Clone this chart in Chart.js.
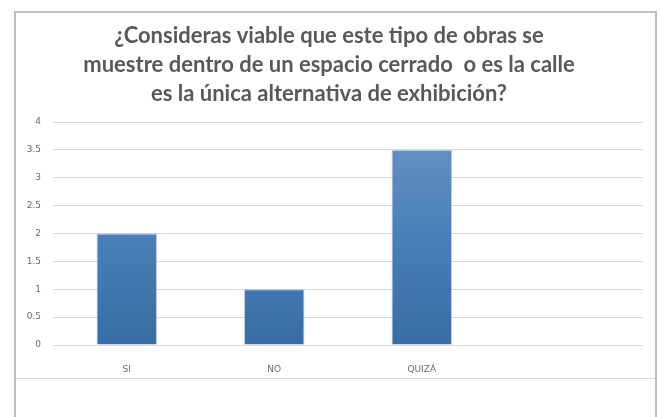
<!DOCTYPE html>
<html>
<head>
<meta charset="utf-8">
<script src="https://cdn.jsdelivr.net/npm/chart.js@4"></script>
<style>
  html, body { margin: 0; padding: 0; background: #fff; }
  #wrap { position: relative; width: 661px; height: 417px; }
  #frame { position: absolute; left: 14px; top: 11px; width: 643px; height: 420px;
           border: 2px solid #bfbfbf; box-sizing: border-box; }
  #sep { position: absolute; left: 16px; top: 378px; width: 639px; height: 1px; background: #d9d9d9; }
  canvas { position: absolute; left: 0; top: 0; }
</style>
</head>
<body>
<div id="wrap">
  <div id="frame"></div>
  <div id="sep"></div>
  <canvas id="chart" width="661" height="417"></canvas>
</div>
<script>
// --- DATA ---
const titleLines = [
  '¿Consideras viable que este tipo de obras se',
  'muestre dentro de un espacio cerrado  o es la calle',
  'es la única alternativa de exhibición?'
];
const categories = ['SI', 'NO', 'QUIZÁ', ''];
const values = [2, 1, 3.5, null];

const textGray = '#595959';

// gradient for bars
function barGradient(context) {
  const { chart } = context;
  const area = chart.chartArea;
  if (!area) return '#4a7fb8';
  const g = chart.ctx.createLinearGradient(0, area.top, 0, area.bottom);
  g.addColorStop(0, '#6a95c2');
  g.addColorStop(0.5, '#4a80b8');
  g.addColorStop(1, '#386da4');
  return g;
}

const ctx = document.getElementById('chart').getContext('2d');
const chart = new Chart(ctx, {
  type: 'bar',
  data: {
    labels: categories,
    datasets: [{
      data: values,
      backgroundColor: barGradient,
      borderColor: 'rgba(60,100,150,0.35)',
      borderWidth: 1,
      barPercentage: 0.41,
      categoryPercentage: 1
    }]
  },
  options: {
    responsive: false,
    animation: false,
    layout: { padding: { left: 15, right: 18, top: 4, bottom: 42 } },
    plugins: {
      legend: { display: false },
      tooltip: { enabled: false },
      title: {
        display: true,
        text: titleLines,
        color: textGray,
        font: { family: 'Lato, "Open Sans", sans-serif', size: 22, weight: 'bold', lineHeight: '29px' },
        padding: { top: 17, bottom: 14 }
      }
    },
    scales: {
      x: {
        grid: { display: false },
        border: { display: false },
        ticks: { color: '#6b6b6b', font: { family: '"DejaVu Sans", sans-serif', size: 9 }, padding: 11, maxRotation: 0 },
        afterFit: s => { s.height = 30; }
      },
      y: {
        min: 0,
        max: 4,
        ticks: {
          stepSize: 0.5,
          color: '#6b6b6b',
          font: { family: '"DejaVu Sans", sans-serif', size: 9 },
          padding: 12,
          callback: v => String(v)
        },
        grid: { color: '#d9d9d9', drawTicks: false },
        border: { display: false },
        afterFit: s => { s.width = 38; }
      }
    }
  }
});
</script>
</body>
</html>
